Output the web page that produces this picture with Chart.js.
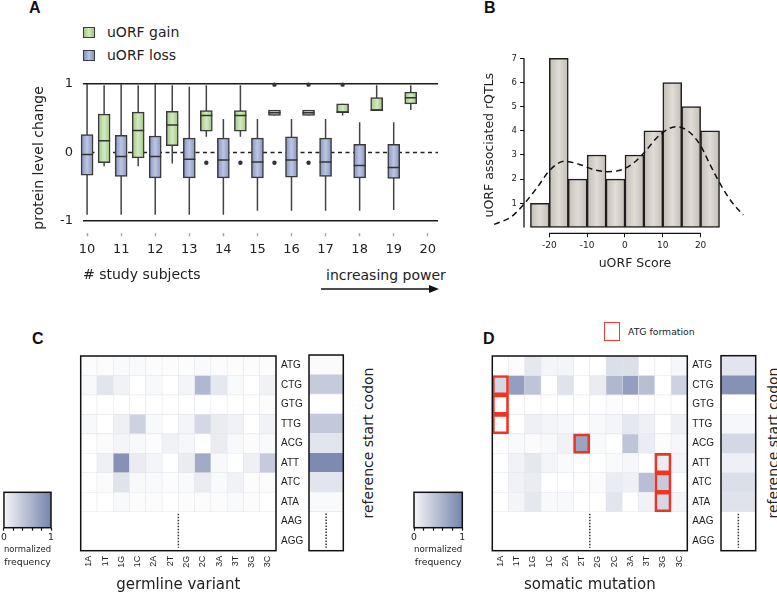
<!DOCTYPE html>
<html>
<head>
<meta charset="utf-8">
<script src="https://cdn.jsdelivr.net/npm/chart.js@4.4.1/dist/chart.umd.min.js"></script>
<style>
body { margin: 0; background: #fff; }
#fig { position: relative; width: 777px; height: 594px; overflow: hidden; font-family: "DejaVu Sans", sans-serif; color: #222; }
#fig canvas { position: absolute; }
.t { position: absolute; white-space: nowrap; line-height: 1; }
.lab { position: absolute; font: bold 16px "Liberation Sans", Arial, sans-serif; color: #111; line-height: 1; }
.sw { position: absolute; box-sizing: border-box; border: 1.5px solid #3c3c3c; }
.rot { position: absolute; white-space: nowrap; line-height: 1; font-size: 14px; transform: translate(-50%, -50%) rotate(-90deg); }
</style>
</head>
<body>
<div id="fig">
  <div class="lab" style="left:29px;top:0">A</div>
  <div class="lab" style="left:484px;top:0">B</div>
  <div class="lab" style="left:32px;top:331px">C</div>
  <div class="lab" style="left:483px;top:331px">D</div>

  <div class="sw" style="left:83px;top:27px;width:12px;height:11px;background:linear-gradient(90deg,#9cc685,#d2eac0,#9cc685)"></div>
  <div class="t" style="left:107px;top:25px;font-size:14px">uORF gain</div>
  <div class="sw" style="left:83px;top:50px;width:12px;height:11px;background:linear-gradient(90deg,#8494c2,#bcc6e3,#8494c2)"></div>
  <div class="t" style="left:107px;top:48px;font-size:14px">uORF loss</div>

  <div class="t" style="left:326px;top:268px;font-size:14px">increasing power</div>
  <svg style="position:absolute;left:321px;top:284px" width="120" height="10">
    <line x1="0" y1="5" x2="110" y2="5" stroke="#111" stroke-width="1.3"/>
    <polygon points="108,1 118,5 108,9" fill="#111"/>
  </svg>

  <div class="rot" style="left:368px;top:443px">reference start codon</div>
  <div class="rot" style="left:773px;top:443px">reference start codon</div>

  <div class="sw" style="left:604px;top:322px;width:16px;height:19px;border-color:#ee3b2f"></div>
  <div class="t" style="left:628px;top:327px;font-size:9.3px">ATG formation</div>

  <canvas id="cA" width="450" height="240" style="left:0;top:60px"></canvas>
  <canvas id="cB" width="337" height="260" style="left:440px;top:40px"></canvas>
  <canvas id="cCmain" width="250" height="249" style="left:60px;top:345px"></canvas>
  <canvas id="cCref" width="50" height="215" style="left:300px;top:345px"></canvas>
  <canvas id="cCbar" width="60" height="95" style="left:0;top:480px"></canvas>
  <canvas id="cDmain" width="250" height="249" style="left:472px;top:345px"></canvas>
  <canvas id="cDref" width="50" height="215" style="left:712px;top:345px"></canvas>
  <canvas id="cDbar" width="70" height="95" style="left:404px;top:480px"></canvas>
</div>

<script>
Chart.defaults.font.family = '"DejaVu Sans", sans-serif';
Chart.defaults.color = '#222';
Chart.defaults.animation = false;
Chart.defaults.responsive = false;
Chart.defaults.plugins.legend.display = false;
Chart.defaults.plugins.tooltip.enabled = false;

// ---------- panel A: protein level change by study size
const subjects = [10, 11, 12, 13, 14, 15, 16, 17, 18, 19];
const xTicksA = [10, 11, 12, 13, 14, 15, 16, 17, 18, 19, 20];

const lossLo  = [-0.91, -0.91, -0.91, -0.91, -0.91, -0.85, -0.85, -0.85, -0.85, -0.84];
const lossQ1  = [-0.33, -0.35, -0.37, -0.37, -0.37, -0.37, -0.36, -0.35, -0.37, -0.38];
const lossMed = [-0.03, -0.06, -0.06, -0.10, -0.11, -0.14, -0.11, -0.14, -0.19, -0.22];
const lossQ3  = [0.26, 0.25, 0.24, 0.21, 0.21, 0.21, 0.23, 0.21, 0.12, 0.12];
const lossHi  = [1.00, 1.00, 1.00, 0.96, 0.49, 0.49, 0.49, 0.49, 0.44, 0.44];

const gainLo  = [-0.20, -0.20, -0.16, 0.23, 0.23, 0.54, 0.54, 0.54, 0.61, 0.62];
const gainQ1  = [-0.15, -0.08, 0.10, 0.31, 0.31, 0.54, 0.54, 0.58, 0.61, 0.71];
const gainMed = [0.17, 0.32, 0.40, 0.54, 0.54, 0.58, 0.58, 0.59, 0.62, 0.80];
const gainQ3  = [0.56, 0.59, 0.60, 0.61, 0.61, 0.62, 0.62, 0.71, 0.80, 0.88];
const gainHi  = [0.98, 0.98, 0.98, 0.98, 0.98, 0.62, 0.62, 0.71, 0.98, 0.98];

const gainOutX = [13.5, 14.5, 15.5, 16.5, 15.5, 16.5, 17.5];
const gainOutY = [-0.15, -0.15, -0.15, -0.15, 0.99, 0.99, 0.99];

// ---------- panel B: histogram of uORF scores
const binCenters = [-22.5, -17.5, -12.5, -7.5, -2.5, 2.5, 7.5, 12.5, 17.5, 22.5];
const binCounts  = [1, 7, 2, 3, 2, 3, 4, 6, 5, 4];
const scoreTicks = [-20, -10, 0, 10, 20];
const countTicks = [1, 2, 3, 4, 5, 6, 7];
const kdeX = [-34.6, -30, -26.4, -23, -20, -16, -12, -8, -4.5, -0.5, 2.5, 4.8, 9.2, 13.5, 17, 19.9, 22.5, 25.6, 28.5, 31.3];
const kdeY = [0.13, 0.45, 1.03, 1.7, 2.35, 2.74, 2.61, 2.38, 2.31, 2.41, 2.7, 3.05, 3.83, 4.17, 3.95, 3.41, 2.6, 1.69, 1.0, 0.52];

// ---------- panels C / D: start codon heatmaps
const codons = ['ATG', 'CTG', 'GTG', 'TTG', 'ACG', 'ATT', 'ATC', 'ATA', 'AAG', 'AGG'];
const variants = ['1A', '1T', '1G', '1C', '2A', '2T', '2G', '2C', '3A', '3T', '3G', '3C'];

const germline = [
  [0.02, 0.02, 0.04, 0.04, 0.02, 0.02, 0.02, 0.04, 0.02, 0.02, 0.02, 0.02],
  [0.05, 0.20, 0.10, 0.00, 0.05, 0.00, 0.08, 0.55, 0.18, 0.04, 0.00, 0.10],
  [0.00, 0.00, 0.00, 0.00, 0.00, 0.00, 0.00, 0.00, 0.00, 0.00, 0.00, 0.02],
  [0.05, 0.00, 0.12, 0.35, 0.05, 0.00, 0.08, 0.30, 0.15, 0.10, 0.00, 0.10],
  [0.00, 0.03, 0.08, 0.05, 0.02, 0.10, 0.06, 0.00, 0.15, 0.05, 0.02, 0.04],
  [0.00, 0.12, 0.85, 0.15, 0.08, 0.00, 0.15, 0.65, 0.05, 0.00, 0.12, 0.40],
  [0.00, 0.03, 0.22, 0.05, 0.04, 0.02, 0.04, 0.15, 0.04, 0.10, 0.02, 0.02],
  [0.00, 0.00, 0.05, 0.02, 0.02, 0.00, 0.02, 0.02, 0.02, 0.04, 0.02, 0.00]
];
const germlineRef = [0.03, 0.40, 0.00, 0.42, 0.20, 0.90, 0.20, 0.04];

const somatic = [
  [0.00, 0.02, 0.18, 0.08, 0.08, 0.00, 0.00, 0.25, 0.25, 0.00, 0.00, 0.06],
  [0.30, 0.75, 0.45, 0.00, 0.22, 0.00, 0.15, 0.55, 0.75, 0.50, 0.00, 0.35],
  [0.02, 0.00, 0.00, 0.00, 0.00, 0.00, 0.00, 0.02, 0.00, 0.00, 0.00, 0.00],
  [0.03, 0.00, 0.12, 0.08, 0.06, 0.00, 0.05, 0.08, 0.18, 0.12, 0.00, 0.12],
  [0.00, 0.04, 0.03, 0.05, 0.10, 0.70, 0.04, 0.00, 0.45, 0.15, 0.02, 0.06],
  [0.00, 0.10, 0.18, 0.08, 0.04, 0.00, 0.00, 0.04, 0.06, 0.00, 0.15, 0.08],
  [0.00, 0.10, 0.15, 0.00, 0.00, 0.00, 0.03, 0.15, 0.12, 0.50, 0.40, 0.00],
  [0.00, 0.08, 0.18, 0.05, 0.05, 0.00, 0.00, 0.20, 0.00, 0.10, 0.30, 0.08]
];
const somaticRef = [0.20, 0.85, 0.00, 0.06, 0.30, 0.12, 0.25, 0.22];

// ---------- helpers
const BOX_HALF = 0.176;   // half box width in x units (panel A)

function segs(xs, a, b) {
  return xs.flatMap((x, i) => [{x, y: a[i]}, {x, y: b[i]}, {x, y: null}]);
}
function medSegs(xs, m) {
  return xs.flatMap((x, i) => [{x: x - BOX_HALF, y: m[i]}, {x: x + BOX_HALF, y: m[i]}, {x, y: null}]);
}
function hGrad(edge, mid, half) {
  return ctx => {
    const ch = ctx.chart, r = ctx.raw;
    if (!ch.chartArea || !r) return mid;
    const xp = ch.scales.x.getPixelForValue(r.x);
    const g = ch.ctx.createLinearGradient(xp - half, 0, xp + half, 0);
    g.addColorStop(0, edge); g.addColorStop(0.5, mid); g.addColorStop(1, edge);
    return g;
  };
}
const C0 = [255, 255, 255], C1 = [112, 126, 168];
function cmap(v) {
  const t = Math.max(0, Math.min(1, v));
  return 'rgb(' + C0.map((a, i) => Math.round(a + (C1[i] - a) * t)).join(',') + ')';
}
function atgFormed(codon, mut) {
  const pos = +mut[0] - 1, base = mut[1];
  if (codon === 'ATG' || codon[pos] === base) return false;
  return codon.slice(0, pos) + base + codon.slice(pos + 1) === 'ATG';
}
const framePlugin = {
  id: 'frame',
  afterDatasetsDraw(chart) {
    const {ctx, chartArea: a} = chart;
    ctx.save();
    ctx.strokeStyle = '#111';
    ctx.lineWidth = 1.5;
    ctx.strokeRect(a.left, a.top, a.right - a.left, a.bottom - a.top);
    ctx.restore();
  }
};

// ---------- panel A
const gainX = subjects.map(s => s + 0.5);
new Chart(document.getElementById('cA'), {
  type: 'bar',
  data: {
    datasets: [
      { type: 'line', data: [{x: 9.88, y: 0}, {x: 20.3, y: 0}], borderColor: '#222', borderWidth: 1.5,
        borderDash: [4, 3.5], pointRadius: 0, order: 10 },
      { type: 'line', data: segs(subjects, lossLo, lossHi), borderColor: '#444', borderWidth: 1.5,
        pointRadius: 0, spanGaps: false, order: 6, clip: false },
      { type: 'line', data: segs(gainX, gainLo, gainHi), borderColor: '#444', borderWidth: 1.5,
        pointRadius: 0, spanGaps: false, order: 6, clip: false },
      { type: 'bar', label: 'uORF loss', data: subjects.map((x, i) => ({x, y: [lossQ1[i], lossQ3[i]]})),
        backgroundColor: hGrad('#8494c2', '#bcc6e3', 6), borderColor: '#3a3a3a', borderWidth: 1.5,
        borderSkipped: false, barThickness: 12, grouped: false, order: 4, clip: false },
      { type: 'bar', label: 'uORF gain', data: gainX.map((x, i) => ({x, y: [gainQ1[i], gainQ3[i]]})),
        backgroundColor: hGrad('#9cc685', '#d2eac0', 6), borderColor: '#3a3a3a', borderWidth: 1.5,
        borderSkipped: false, barThickness: 12, grouped: false, order: 4, clip: false },
      { type: 'line', data: medSegs(subjects, lossMed).concat(medSegs(gainX, gainMed)), borderColor: '#333',
        borderWidth: 1.5, pointRadius: 0, spanGaps: false, order: 2, clip: false },
      { type: 'line', data: gainOutX.map((x, i) => ({x, y: gainOutY[i]})), showLine: false,
        pointRadius: 2.2, pointBackgroundColor: '#333', pointBorderWidth: 0, order: 1, clip: false }
    ]
  },
  options: {
    layout: { padding: { left: 0, right: 12, top: 22.6, bottom: 6.7 } },
    scales: {
      x: {
        type: 'linear', min: 9.88, max: 20.3, offset: false,
        afterBuildTicks: a => { a.ticks = xTicksA.map(v => ({value: v})); },
        afterFit: s => { s.height = 60; },
        ticks: { font: { size: 13 }, padding: 6, maxRotation: 0, autoSkip: false },
        grid: { drawOnChartArea: false, tickLength: 3, tickColor: '#aaa', tickWidth: 1.5, offset: false },
        border: { display: false },
        title: { display: true, text: '# study subjects', align: 'start', font: { size: 14 },
                 padding: { top: 0, bottom: 9.9 } }
      },
      y: {
        type: 'linear', min: -1.18, max: 1.02,
        afterBuildTicks: a => { a.ticks = [-1, 0, 1].map(v => ({value: v})); },
        afterFit: s => { s.width = 83; },
        ticks: { font: { size: 13 }, padding: 10 },
        grid: { color: c => (c.tick && c.tick.value === 0) ? 'rgba(0,0,0,0)' : '#1a1a1a', lineWidth: 1.6, drawTicks: false },
        border: { display: false },
        title: { display: true, text: 'protein level change', font: { size: 14 }, padding: { top: 30.6, bottom: 0 } }
      }
    }
  }
});

// ---------- panel B
const B_XMIN = -26.7, B_XMAX = 32, B_YMIN = -0.24;
new Chart(document.getElementById('cB'), {
  type: 'bar',
  data: {
    datasets: [
      { type: 'line', data: kdeX.map((x, i) => ({x, y: kdeY[i]})), borderColor: '#111', borderWidth: 1.5,
        borderDash: [6, 4], pointRadius: 0, cubicInterpolationMode: 'monotone', clip: false, order: 1 },
      { type: 'line', data: [{x: -20, y: B_YMIN}, {x: 20, y: B_YMIN}], borderColor: '#111', borderWidth: 1.3,
        pointRadius: 0, clip: false, order: 0 },
      { type: 'line', data: [{x: B_XMIN, y: 0}, {x: B_XMIN, y: 7}], borderColor: '#111', borderWidth: 1.3,
        pointRadius: 0, clip: false, order: 0 },
      { type: 'bar', data: binCenters.map((x, i) => ({x, y: binCounts[i]})),
        backgroundColor: hGrad('#c3bdb4', '#e0dcd6', 9.5), borderColor: '#1e1e1e', borderWidth: 1.5,
        borderSkipped: false, barPercentage: 1, categoryPercentage: 1, order: 3 }
    ]
  },
  options: {
    layout: { padding: { left: 0, right: 31, top: 17.1, bottom: 26.7 } },
    scales: {
      x: {
        type: 'linear', bounds: 'data', offset: false,
        afterDataLimits: s => { s.min = B_XMIN; s.max = B_XMAX; },
        afterBuildTicks: a => { a.ticks = scoreTicks.map(v => ({value: v})); },
        afterFit: s => { s.height = 40; },
        ticks: { font: { size: 9 }, padding: 3, maxRotation: 0, autoSkip: false },
        grid: { drawOnChartArea: false, tickLength: 4, tickColor: '#111', offset: false },
        border: { display: false },
        title: { display: true, text: 'uORF Score', font: { size: 12.5 }, padding: { top: 0, bottom: 1.8 } }
      },
      y: {
        type: 'linear', min: B_YMIN, max: 7.05,
        afterBuildTicks: a => { a.ticks = countTicks.map(v => ({value: v})); },
        afterFit: s => { s.width = 84; },
        ticks: { font: { size: 8.5 }, padding: 3 },
        grid: { drawOnChartArea: false, tickLength: 4, tickColor: '#111' },
        border: { display: false },
        title: { display: true, text: 'uORF associated rQTLs', font: { size: 12.5 }, padding: { top: 42.5, bottom: 0 } }
      }
    }
  }
});

// ---------- panels C / D
function mainHeat(id, matrix, title, pad, markAtg) {
  const cells = [], marks = [];
  matrix.forEach((row, r) => row.forEach((v, c) => {
    cells.push({x: c + 0.5, y: [r, r + 1], v});
    if (markAtg && atgFormed(codons[r], variants[c])) marks.push({x: c + 0.5, y: [r, r + 1]});
  }));
  const datasets = [
    { type: 'bar', data: cells, backgroundColor: ctx => cmap(ctx.raw ? ctx.raw.v : 0),
      borderColor: '#e3e6ec', borderWidth: 0.6, borderSkipped: false,
      barPercentage: 1, categoryPercentage: 1, grouped: false, order: 3 },
    { type: 'line', data: [{x: 6, y: 8.1}, {x: 6, y: 9.85}], borderColor: '#333', borderWidth: 1.5,
      borderDash: [1.5, 1.5], pointRadius: 0, order: 1 }
  ];
  if (marks.length) datasets.push({ type: 'bar', data: marks, backgroundColor: 'rgba(0,0,0,0)',
    borderColor: '#ee3524', borderWidth: 2, borderSkipped: false,
    barPercentage: 1, categoryPercentage: 1, grouped: false, order: 2 });
  new Chart(document.getElementById(id), {
    type: 'bar',
    data: { datasets },
    plugins: [framePlugin],
    options: {
      layout: { padding: pad },
      scales: {
        x: {
          type: 'linear', min: 0, max: variants.length, offset: false,
          afterBuildTicks: a => { a.ticks = variants.map((_, i) => ({value: i + 0.5})); },
          afterFit: s => { s.height = 43.3; },
          ticks: { callback: (v, i) => variants[i], minRotation: 90, maxRotation: 90, autoSkip: false,
                   padding: 5, font: { size: 9, family: '"Liberation Sans", Arial, sans-serif' } },
          grid: { display: false, drawTicks: false, offset: false },
          border: { display: false },
          title: { display: true, text: title, font: { size: 15 }, padding: { top: 0, bottom: 0 } }
        },
        y: {
          type: 'linear', min: 0, max: codons.length, reverse: true, position: 'right',
          afterBuildTicks: a => { a.ticks = codons.map((_, i) => ({value: i + 0.5})); },
          afterFit: s => { s.width = 34; },
          ticks: { callback: (v, i) => codons[i], autoSkip: false, padding: 5,
                   font: { size: 10, family: '"Liberation Sans", Arial, sans-serif' } },
          grid: { display: false, drawTicks: false },
          border: { display: false }
        }
      }
    }
  });
}

function refHeat(id, col, pad) {
  new Chart(document.getElementById(id), {
    type: 'bar',
    data: {
      datasets: [
        { type: 'bar', data: col.map((v, r) => ({x: 0.5, y: [r, r + 1], v})),
          backgroundColor: ctx => cmap(ctx.raw ? ctx.raw.v : 0), borderColor: '#e3e6ec', borderWidth: 0.6,
          borderSkipped: false, barPercentage: 1, categoryPercentage: 1, order: 3 },
        { type: 'line', data: [{x: 0.5, y: 8.1}, {x: 0.5, y: 9.85}], borderColor: '#333', borderWidth: 1.5,
          borderDash: [1.5, 1.5], pointRadius: 0, order: 1 }
      ]
    },
    plugins: [framePlugin],
    options: {
      layout: { padding: pad },
      scales: {
        x: { type: 'linear', min: 0, max: 1, offset: false, display: false,
             afterBuildTicks: a => { a.ticks = [{value: 0}, {value: 1}]; } },
        y: { type: 'linear', min: 0, max: codons.length, reverse: true, display: false }
      }
    }
  });
}

function colorBar(id, pad) {
  new Chart(document.getElementById(id), {
    type: 'bar',
    data: {
      labels: [''],
      datasets: [{
        data: [[0, 1]],
        backgroundColor: ctx => {
          const a = ctx.chart.chartArea;
          if (!a) return cmap(0.5);
          const g = ctx.chart.ctx.createLinearGradient(a.left, 0, a.right, 0);
          g.addColorStop(0, 'rgb(244,245,248)');
          g.addColorStop(1, 'rgb(118,132,172)');
          return g;
        },
        borderWidth: 0, barPercentage: 1, categoryPercentage: 1
      }]
    },
    plugins: [framePlugin],
    options: {
      indexAxis: 'y',
      layout: { padding: pad },
      scales: {
        x: {
          type: 'linear', min: 0, max: 1, offset: false,
          afterBuildTicks: a => { a.ticks = [0, 0.2, 0.4, 0.6, 0.8, 1].map(v => ({value: v})); },
          afterFit: s => { s.height = 41.8; },
          ticks: { callback: v => (v === 0 || v === 1) ? String(v) : '', font: { size: 9.3 }, padding: 1,
                   maxRotation: 0, autoSkip: false },
          grid: { drawOnChartArea: false, tickLength: 3, tickColor: '#111', tickWidth: 1.2 },
          border: { display: false },
          title: { display: true, text: ['normalized', 'frequency'], font: { size: 9.3, lineHeight: 1.4 },
                   padding: { top: 0, bottom: 0 } }
        },
        y: { display: false }
      }
    }
  });
}

mainHeat('cCmain', germline, 'germline variant', { left: 20.7, right: 0, top: 10, bottom: 0 }, false);
refHeat('cCref', germlineRef, { left: 9, right: 6.7, top: 10, bottom: 9.3 });
colorBar('cCbar', { left: 3, right: 9, top: 12.3, bottom: 5.5 });

mainHeat('cDmain', somatic, 'somatic mutation', { left: 20.3, right: 0.7, top: 10.7, bottom: 0 }, true);
refHeat('cDref', somaticRef, { left: 9, right: 6.3, top: 10.7, bottom: 9.3 });
colorBar('cDbar', { left: 10, right: 11.7, top: 12.3, bottom: 5.5 });
</script>
</body>
</html>
